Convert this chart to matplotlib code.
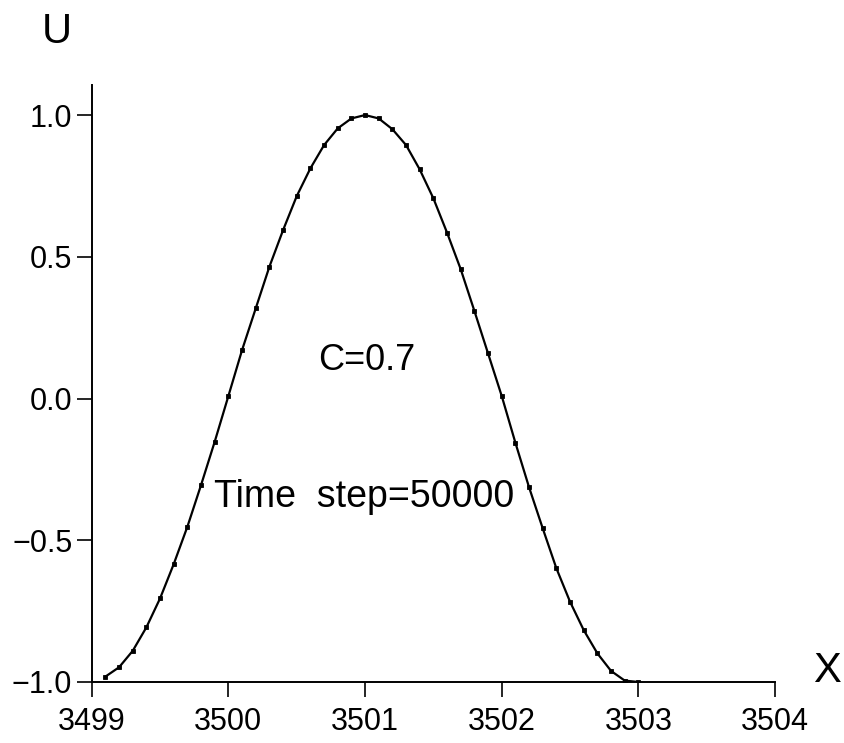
import matplotlib
matplotlib.use("Agg")
from matplotlib import pyplot as plt

plt.rcParams['font.family'] = ['Liberation Sans', 'DejaVu Sans']

# values (grid step ~0.1)
x_values = [3499.1, 3499.2, 3499.3, 3499.4, 3499.5, 3499.6, 3499.7, 3499.8, 3499.9, 3500.0,
            3500.1, 3500.2, 3500.3, 3500.4, 3500.5, 3500.6, 3500.7, 3500.8, 3500.9, 3501.0,
            3501.1, 3501.2, 3501.3, 3501.4, 3501.5, 3501.6, 3501.7, 3501.8, 3501.9, 3502.0,
            3502.1, 3502.2, 3502.3, 3502.4, 3502.5, 3502.6, 3502.7, 3502.8, 3502.9, 3503.0]
u_values = [-0.981, -0.948, -0.890, -0.807, -0.705, -0.584, -0.452, -0.305, -0.152, 0.009,
            0.171, 0.318, 0.465, 0.594, 0.714, 0.812, 0.894, 0.953, 0.988, 1.000,
            0.988, 0.950, 0.894, 0.808, 0.706, 0.585, 0.456, 0.309, 0.159, 0.009,
            -0.156, -0.313, -0.458, -0.599, -0.717, -0.817, -0.899, -0.961, -0.995, -1.000]

x_ticks = [3499, 3500, 3501, 3502, 3503, 3504]
y_ticks = [-1.0, -0.5, 0.0, 0.5, 1.0]
y_tick_labels = ["\u22121.0", "\u22120.5", "0.0", "0.5", "1.0"]

fig = plt.figure(figsize=(8.44, 7.43), dpi=100)
ax = fig.add_axes([0.1087, 0.0821, 0.8096, 0.8035])

ax.plot(x_values, u_values, color="black", linewidth=1.6,
        marker="s", markersize=2.2, markerfacecolor="black", markeredgewidth=0.6)

ax.set_xlim(3499, 3504)
ax.set_ylim(-1.0, 1.106)

for side in ("top", "right"):
    ax.spines[side].set_visible(False)
for side in ("left", "bottom"):
    ax.spines[side].set_linewidth(1.4)

ax.set_xticks(x_ticks)
ax.set_xticklabels([str(t) for t in x_ticks])
ax.set_yticks(y_ticks)
ax.set_yticklabels(y_tick_labels)
ax.tick_params(axis="both", direction="out", length=11, width=1.2, labelsize=22)
ax.tick_params(axis="x", pad=7)
ax.tick_params(axis="y", pad=3)

ax.text(3501.01, 0.10, "C=0.7", fontsize=26, ha="center", va="baseline")
ax.text(3500.99, -0.382, "Time  step=50000", fontsize=27, ha="center", va="baseline")

fig.text(0.05, 0.942, "U", fontsize=30, ha="left", va="baseline")
fig.text(0.963, 0.0821, "X", fontsize=30, ha="left", va="baseline")

fig.savefig("out.png", dpi=100)
